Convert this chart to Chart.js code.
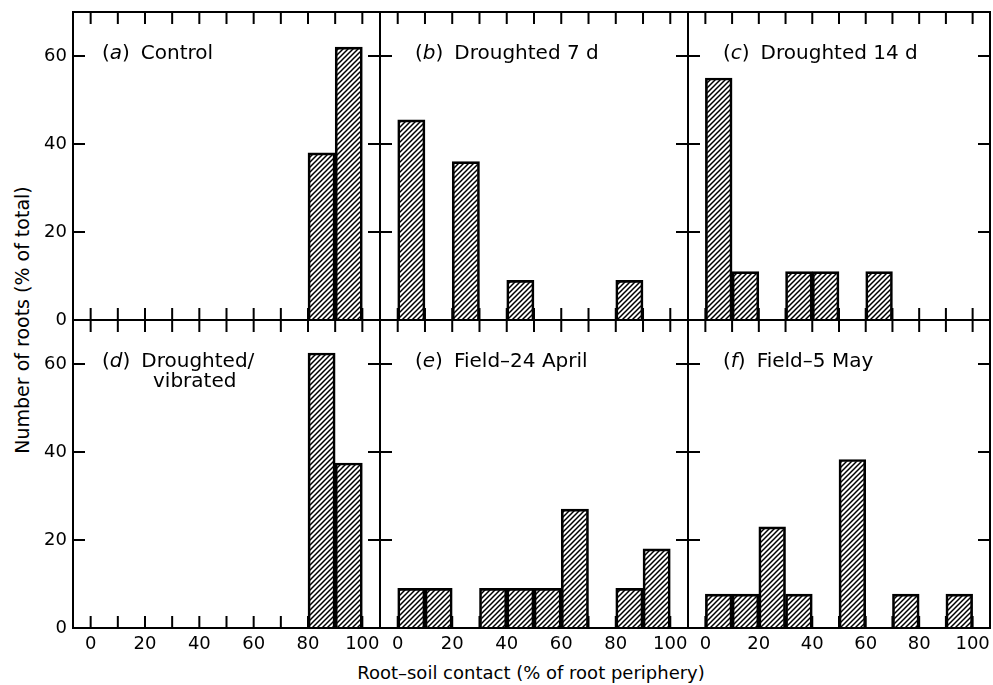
<!DOCTYPE html>
<html>
<head>
<meta charset="utf-8">
<script src="https://cdn.jsdelivr.net/npm/chart.js@4.4.1/dist/chart.umd.min.js"></script>
<style>
  body { margin: 0; background: #fff; width: 993px; height: 685px; position: relative; overflow: hidden; font-family: "DejaVu Sans", sans-serif; color: #000; }
  canvas { position: absolute; }
  .ytitle { position: absolute; left: 22px; top: 320px; transform: translate(-50%, -50%) rotate(-90deg); white-space: nowrap; font-size: 19px; }
  .xtitle { position: absolute; left: 531px; top: 672px; transform: translate(-50%, -50%); white-space: nowrap; font-size: 18px; }
</style>
</head>
<body>
<div class="ytitle">Number of roots (% of total)</div>
<div class="xtitle">Root–soil contact (% of root periphery)</div>
<script>
// bins of root-soil contact, 10 % wide (centres)
const binCenters = [5, 15, 25, 35, 45, 55, 65, 75, 85, 95];

// % of roots in each bin
const controlValues    = [0, 0, 0, 0, 0, 0, 0, 0, 38, 62];
const drought7Values   = [45.5, 0, 36, 0, 9, 0, 0, 0, 9, 0];
const drought14Values  = [55, 11, 0, 11, 11, 0, 11, 0, 0, 0];
const vibratedValues   = [0, 0, 0, 0, 0, 0, 0, 0, 62.5, 37.5];
const field24AprValues = [9, 9, 0, 9, 9, 9, 27, 0, 9, 18];
const field5MayValues  = [7.7, 7.7, 23, 7.7, 0, 38.3, 0, 7.7, 0, 7.7];

const xTickLabels = [0, 20, 40, 60, 80, 100];
const xTickMarks = [0, 10, 20, 30, 40, 50, 60, 70, 80, 90, 100];
const yTickLabels = [0, 20, 40, 60];
const yTickMarks = [20, 40, 60];

const panelLetters = ["a", "b", "c", "d", "e", "f"];
const panelTitles = [["Control"], ["Droughted 7 d"], ["Droughted 14 d"], ["Droughted/", "vibrated"], ["Field–24 April"], ["Field–5 May"]];
const panelValues = [controlValues, drought7Values, drought14Values, vibratedValues, field24AprValues, field5MayValues];

// layout of the 2 x 3 grid (page pixels)
const cols = [[73, 380], [380, 688], [688, 990]];
const rows = [[12, 320], [320, 628]];
const M = 20;
const FONT = "DejaVu Sans";

function makeHatch() {
  const s = 5;
  const c = document.createElement("canvas");
  c.width = s; c.height = s;
  const g = c.getContext("2d");
  g.strokeStyle = "#000";
  g.lineWidth = 1.5;
  g.beginPath();
  g.moveTo(-1, s + 1); g.lineTo(s + 1, -1);
  g.moveTo(-1, 1); g.lineTo(1, -1);
  g.moveTo(s - 1, s + 1); g.lineTo(s + 1, s - 1);
  g.stroke();
  return g.createPattern(c, "repeat");
}
const hatch = makeHatch();

// frame, inward ticks and panel label
const framePlugin = {
  id: "frame",
  afterDraw(chart, args, opts) {
    const { ctx, chartArea: a, scales } = chart;
    ctx.save();
    ctx.strokeStyle = "#000";
    ctx.lineWidth = 2;
    ctx.strokeRect(a.left, a.top, a.right - a.left, a.bottom - a.top);
    ctx.beginPath();
    xTickMarks.forEach((v) => {
      const x = scales.x.getPixelForValue(v);
      ctx.moveTo(x, a.bottom); ctx.lineTo(x, a.bottom - 12);
      ctx.moveTo(x, a.top); ctx.lineTo(x, a.top + 12);
    });
    yTickMarks.forEach((v) => {
      const y = scales.y.getPixelForValue(v);
      ctx.moveTo(a.left, y); ctx.lineTo(a.left + 12, y);
      ctx.moveTo(a.right, y); ctx.lineTo(a.right - 12, y);
    });
    ctx.stroke();

    // "(a)  Control"
    ctx.fillStyle = "#000";
    ctx.textBaseline = "middle";
    let x = a.left + opts.dx;
    const y = a.top + 42;
    const parts = [["(", ""], [opts.letter, "italic "], [")", ""]];
    parts.forEach(([t, st]) => {
      ctx.font = st + "20px '" + FONT + "'";
      ctx.fillText(t, x, y);
      x += ctx.measureText(t).width;
    });
    ctx.font = "20px '" + FONT + "'";
    x += 11;
    ctx.fillText(opts.title[0], x, y);
    if (opts.title[1]) ctx.fillText(opts.title[1], a.left + 80, y + 20);
    ctx.restore();
  },
};

panelValues.forEach((vals, i) => {
  const c = i % 3, r = Math.floor(i / 3);
  const [L, R] = cols[c];
  const [T, B] = rows[r];
  const left = c === 0 ? 0 : L - M;
  const top = T - M;
  const right = R + M;
  const bottom = r === 1 ? 685 : B + M;

  const canvas = document.createElement("canvas");
  canvas.width = right - left;
  canvas.height = bottom - top;
  canvas.style.left = left + "px";
  canvas.style.top = top + "px";
  document.body.appendChild(canvas);

  new Chart(canvas, {
    type: "bar",
    data: {
      datasets: [
        {
          data: binCenters.map((x, k) => ({ x: x, y: vals[k] })),
          backgroundColor: hatch,
          borderColor: "#000",
          borderWidth: 2,
          barPercentage: 1,
          categoryPercentage: 1,
        },
      ],
    },
    options: {
      responsive: false,
      animation: false,
      devicePixelRatio: 1,
      layout: {
        padding: { left: c === 0 ? 0 : M, right: M, top: M, bottom: r === 1 ? 0 : M },
      },
      plugins: {
        legend: { display: false },
        tooltip: { enabled: false },
        frame: { letter: panelLetters[i], title: panelTitles[i], dx: c === 0 ? 29 : 35 },
      },
      scales: {
        x: {
          type: "linear",
          offset: false,
          min: -6.5,
          max: 106.5,
          display: r === 1,
          grid: { display: false, drawTicks: false },
          border: { display: false },
          ticks: { color: "#000", font: { family: FONT, size: 18 }, padding: 6, maxRotation: 0, autoSkip: false },
          afterBuildTicks: (s) => { s.ticks = xTickLabels.map((v) => ({ value: v })); },
          afterFit: (s) => { if (r === 1) s.height = 685 - 628; },
        },
        y: {
          min: 0,
          max: 70,
          display: c === 0,
          grid: { display: false, drawTicks: false },
          border: { display: false },
          ticks: { color: "#000", font: { family: FONT, size: 18 }, padding: 6 },
          afterBuildTicks: (s) => { s.ticks = yTickLabels.map((v) => ({ value: v })); },
          afterFit: (s) => { if (c === 0) s.width = 73; },
        },
      },
    },
    plugins: [framePlugin],
  });
});
</script>
</body>
</html>
